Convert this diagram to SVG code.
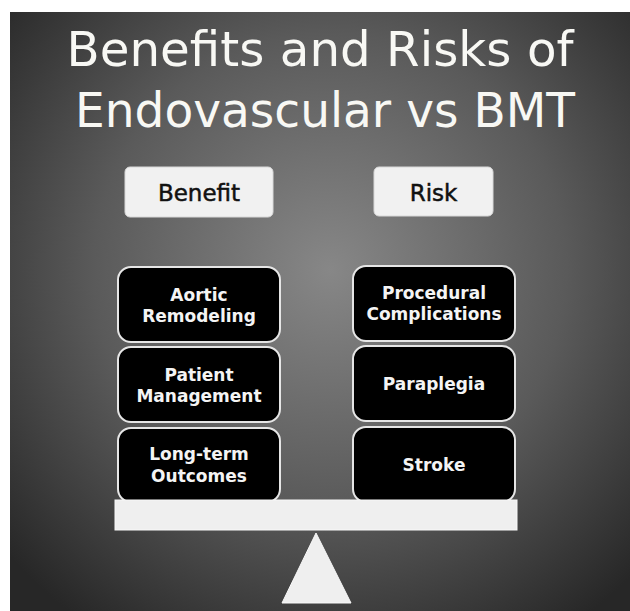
<svg xmlns="http://www.w3.org/2000/svg" width="630" height="611" viewBox="0 0 630 611">
<defs>
<radialGradient id="bg" gradientUnits="userSpaceOnUse" cx="330" cy="270" r="430">
<stop offset="0" stop-color="#878787"/>
<stop offset="0.55" stop-color="#5a5a5a"/>
<stop offset="1" stop-color="#272727"/>
</radialGradient>
<style>
.title{font-family:"DejaVu Sans","Liberation Sans",sans-serif;font-size:48px;fill:#f8f8f4;text-anchor:middle}
.hbox{fill:#f1f1f1;stroke:#d8d8d8;stroke-width:1}
.htxt{font-family:"DejaVu Sans","Liberation Sans",sans-serif;font-size:23px;fill:#111;text-anchor:middle;stroke:#111;stroke-width:0.5}
.box{fill:#000;stroke:#e6e6e6;stroke-width:2}
.btxt{font-family:"DejaVu Sans","Liberation Sans",sans-serif;font-size:17px;font-weight:bold;fill:#f4f4f4;text-anchor:middle}
.scale{fill:#efefef;stroke:#f8f8f8;stroke-width:1}
</style>
</defs>
<rect x="0" y="0" width="630" height="611" fill="#ffffff"/>
<rect x="10" y="12" width="620" height="599" fill="url(#bg)"/>
<g id="title">
<text class="title" x="320" y="66" textLength="507" lengthAdjust="spacingAndGlyphs">Benefits and Risks of</text>
<text class="title" x="325" y="127" textLength="500" lengthAdjust="spacingAndGlyphs">Endovascular vs BMT</text>
</g>
<g id="benefit">
<rect class="hbox" x="125" y="167" width="148" height="50" rx="5"/>
<text class="htxt" x="199" y="201">Benefit</text>
</g>
<g id="risk">
<rect class="hbox" x="374" y="167" width="119" height="49" rx="5"/>
<text class="htxt" x="433.5" y="201">Risk</text>
</g>
<g id="aortic">
<rect class="box" x="118" y="267" width="162" height="75" rx="13"/>
<text class="btxt" x="199" y="301">Aortic</text>
<text class="btxt" x="199" y="322">Remodeling</text>
</g>
<g id="patient">
<rect class="box" x="118" y="347" width="162" height="75" rx="13"/>
<text class="btxt" x="199" y="381">Patient</text>
<text class="btxt" x="199" y="402">Management</text>
</g>
<g id="longterm">
<rect class="box" x="118" y="428" width="162" height="74" rx="13"/>
<text class="btxt" x="199" y="460">Long-term</text>
<text class="btxt" x="199" y="482">Outcomes</text>
</g>
<g id="procedural">
<rect class="box" x="353" y="266" width="162" height="75" rx="13"/>
<text class="btxt" x="434" y="299">Procedural</text>
<text class="btxt" x="434" y="320">Complications</text>
</g>
<g id="paraplegia">
<rect class="box" x="353" y="346" width="162" height="75" rx="13"/>
<text class="btxt" x="434" y="390">Paraplegia</text>
</g>
<g id="stroke">
<rect class="box" x="353" y="427" width="162" height="75" rx="13"/>
<text class="btxt" x="434" y="471">Stroke</text>
</g>
<g id="beam">
<rect class="scale" x="115" y="500" width="402" height="30"/>
</g>
<g id="fulcrum">
<polygon class="scale" points="316,533 351,603 282,603"/>
</g>
<g id="connectors"></g>
</svg>
